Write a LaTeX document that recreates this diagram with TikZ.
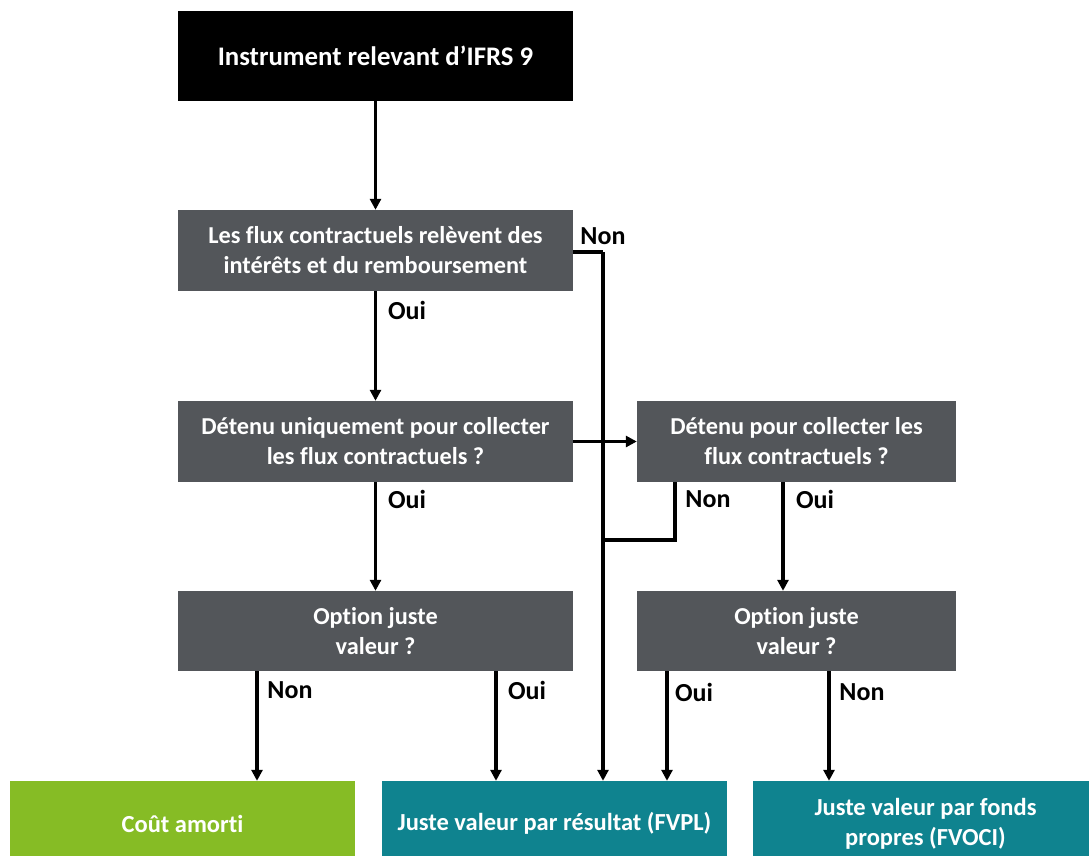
\documentclass[tikz,border=0pt]{standalone}
\usepackage{fontspec}
\setmainfont{Carlito}[Ligatures=NoCommon]
\usetikzlibrary{arrows.meta,calc}
\definecolor{boxgray}{HTML}{53565A}
\definecolor{dgreen}{HTML}{86BC25}
\definecolor{dteal}{HTML}{0F838F}
\begin{document}
\begin{tikzpicture}[x=1pt,y=-1pt,
  box/.style={fill=boxgray,text=white,font=\bfseries\fontsize{24.3}{30}\selectfont,align=center,inner sep=0pt,minimum height=81pt},
  wide/.style={box,minimum width=395pt},
  narrow/.style={box,minimum width=319pt},
  result/.style={text=white,font=\bfseries\fontsize{24.5}{30}\selectfont,align=center,inner sep=0pt,minimum width=345pt,minimum height=85pt},
  conn/.style={line width=3.5pt,-{Triangle[length=11pt,width=11pt]}},
  line/.style={line width=3.5pt},
  lab/.style={font=\bfseries\fontsize{26}{30}\selectfont,text=black,inner sep=0pt}]
\useasboundingbox (0,0) rectangle (1089,856);
\begin{scope}
\clip (0,0) rectangle (1089,856);
\node[box,fill=black,minimum width=395pt,minimum height=90pt,font=\bfseries\fontsize{26.8}{30}\selectfont] (top) at (375.5,56) {Instrument relevant d’IFRS 9};
\node[wide] (b1) at (375.5,250.5) {Les flux contractuels relèvent des\\intérêts et du remboursement};
\node[wide] (b2) at (375.5,441.5) {Détenu uniquement pour collecter\\les flux contractuels ?};
\node[narrow] (b3) at (796.5,441.5) {Détenu pour collecter les\\flux contractuels ?};
\node[wide,minimum height=80pt] (b4) at (375.5,631) {Option juste\\valeur ?};
\node[narrow,minimum height=80pt] (b5) at (796.5,631) {Option juste\\valeur ?};
\node[result,fill=dgreen] (ca) at (182.5,823.5) {Coût amorti};
\node[result,fill=dteal] (fvpl) at (554.5,823.5) {Juste valeur par résultat (FVPL)};
\node[result,fill=dteal] (fvoci) at (925.5,823.5) {Juste valeur par fonds\\propres (FVOCI)};
\end{scope}
\coordinate (nonA) at (603,252);
\coordinate (j) at (603,540);
\draw[conn] (top.south) -- (b1.north);
\draw[line] (b1.east |- nonA) -- (nonA);
\draw[conn] (nonA) -- (nonA |- fvpl.north);
\node[lab] (lnon1) at (603,236) {Non};
\draw[conn] (b1.south) -- (b2.north);
\node[lab] (loui1) at (407,310) {Oui};
\draw[conn] (b2.east) -- (b3.west);
\draw[conn] (b2.south) -- (b4.north);
\node[lab] (loui2) at (407,499) {Oui};
\coordinate (b3n) at (675,482);
\draw[line,line join=miter] (b3n |- b3.south) -- (b3n |- j) -- (j);
\node[lab] (lnon2) at (708,499) {Non};
\coordinate (b3o) at (783,482);
\draw[conn] (b3o |- b3.south) -- (b3o |- b5.north);
\node[lab] (loui3) at (815,499) {Oui};
\coordinate (b4n) at (257,671);
\draw[conn] (b4n |- b4.south) -- (b4n |- ca.north);
\node[lab] (lnon3) at (290,690) {Non};
\coordinate (b4o) at (496,671);
\draw[conn] (b4o |- b4.south) -- (b4o |- fvpl.north);
\node[lab] (loui4) at (527,690) {Oui};
\coordinate (b5o) at (667,671);
\draw[conn] (b5o |- b5.south) -- (b5o |- fvpl.north);
\node[lab] (loui5) at (694,692) {Oui};
\coordinate (b5n) at (829,671);
\draw[conn] (b5n |- b5.south) -- (b5n |- fvoci.north);
\node[lab] (lnon4) at (862,692) {Non};
\end{tikzpicture}
\end{document}
